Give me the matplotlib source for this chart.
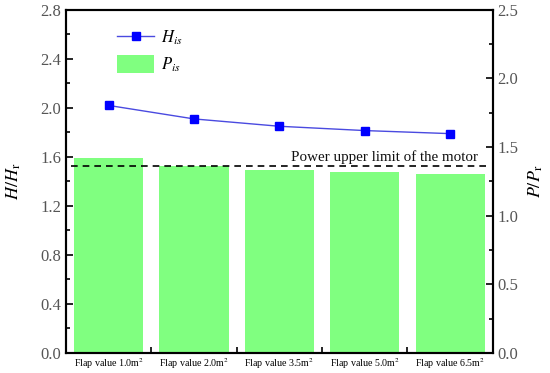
import matplotlib
matplotlib.use("Agg")
import matplotlib.pyplot as plt
from matplotlib.ticker import MultipleLocator, FormatStrFormatter
from matplotlib.lines import Line2D
from matplotlib.patches import Patch
import numpy as np

categories = ["Flap value 1.0m$^{2}$", "Flap value 2.0m$^{2}$", "Flap value 3.5m$^{2}$",
              "Flap value 5.0m$^{2}$", "Flap value 6.5m$^{2}$"]
H_is = [2.02, 1.91, 1.85, 1.815, 1.79]
P_is = [1.423, 1.363, 1.336, 1.321, 1.307]
power_limit = 1.36
limit_label = "Power upper limit of the motor"

plt.rcParams['font.family'] = ['Liberation Serif', 'DejaVu Serif']
plt.rcParams['mathtext.fontset'] = 'stix'

fig = plt.figure(figsize=(5.5, 3.73), dpi=100)
ax = fig.add_axes([0.12, 0.0536, 0.776, 0.92])
ax2 = ax.twinx()

x = np.arange(len(categories))
bars = ax2.bar(x, P_is, width=0.81, color='#80FF80', zorder=1)
ax2.axhline(power_limit, xmin=0.012, xmax=0.99, color='black', ls=(0, (4, 3)), lw=1.2, zorder=3)
ax2.text(4.33, power_limit + 0.015, limit_label, ha='right', va='bottom', fontsize=10.8, color='#111111')

ax.set_zorder(ax2.get_zorder() + 1)
ax.patch.set_visible(False)
ax.plot(x, H_is, color='#4a4ae0', lw=1.0, marker='s', ms=6, mfc='#0000ff', mec='#0000ff', zorder=5)

ax.set_xlim(-0.5, 4.5)
ax.set_ylim(0, 2.8)
ax2.set_ylim(0, 2.5)

ax.yaxis.set_major_locator(MultipleLocator(0.4))
ax.yaxis.set_minor_locator(MultipleLocator(0.2))
ax.yaxis.set_major_formatter(FormatStrFormatter('%.1f'))
ax2.yaxis.set_major_locator(MultipleLocator(0.5))
ax2.yaxis.set_minor_locator(MultipleLocator(0.25))
ax2.yaxis.set_major_formatter(FormatStrFormatter('%.1f'))

ax.set_xticks(x)
ax.set_xticklabels(categories, fontsize=7.2)
ax.set_xticks(np.arange(0.5, 4.5, 1.0), minor=True)
ax.tick_params(axis='x', which='major', length=0, pad=2)
ax.tick_params(axis='x', which='minor', direction='in', length=4, width=1.2)

for a in (ax, ax2):
    a.tick_params(axis='y', which='major', direction='in', length=5, width=1.2, labelsize=12, labelcolor='#555555')
    a.tick_params(axis='y', which='minor', direction='in', length=3, width=1.2)
    for s in a.spines.values():
        s.set_linewidth(1.5)

ax.set_ylabel(r"$H/H_{\mathrm{r}}$", fontsize=13, labelpad=12)
ax2.set_ylabel(r"$P/P_{\mathrm{r}}$", fontsize=13, labelpad=6)

handles = [Line2D([0], [0], color='#4a4ae0', lw=1.0, marker='s', ms=6, mfc='#0000ff', mec='#0000ff'),
           Patch(facecolor='#80FF80')]
ax.legend(handles, [r"$H_{is}$", r"$P_{is}$"], loc='upper left', bbox_to_anchor=(0.085, 0.99),
          frameon=False, fontsize=12, handlelength=2.2, handleheight=1.3, labelspacing=0.45,
          handletextpad=0.4)

fig.savefig("out.png", dpi=100)
